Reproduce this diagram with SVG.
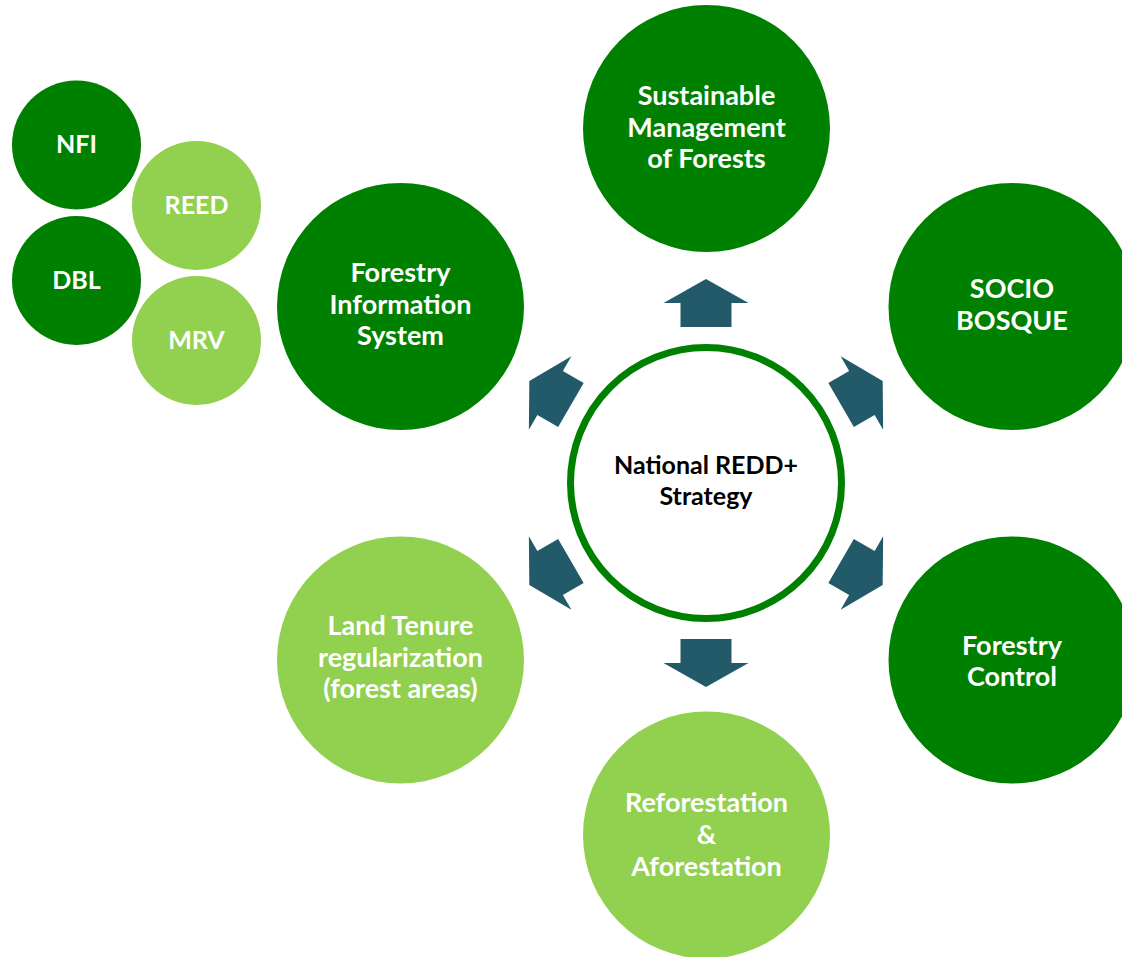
<svg xmlns="http://www.w3.org/2000/svg" width="1122" height="957" viewBox="0 0 1122 957">
  <style>
    .dark { fill: #008000; }
    .light { fill: #92d050; }
    .lbl { font-family: Lato, "Open Sans", "Liberation Sans", sans-serif; font-weight: bold; font-size: 27px; fill: #ffffff; text-anchor: middle; }
    .sm { font-size: 25px; }
    .ctr { font-family: Lato, "Open Sans", "Liberation Sans", sans-serif; font-weight: bold; font-size: 25px; fill: #000000; text-anchor: middle; }
    .arrow { fill: #235a6a; }
  </style>
  <defs>
    <polygon id="arr" points="0,-204 42.5,-180 25.5,-180 25.5,-156 -25.5,-156 -25.5,-180 -42.5,-180"/>
  </defs>
  <rect width="1122" height="957" fill="#ffffff"/>

  <g id="connectors" class="arrow">
    <use href="#arr" transform="translate(706,483) rotate(0)"/>
    <use href="#arr" transform="translate(706,483) rotate(60)"/>
    <use href="#arr" transform="translate(706,483) rotate(120)"/>
    <use href="#arr" transform="translate(706,483) rotate(180)"/>
    <use href="#arr" transform="translate(706,483) rotate(240)"/>
    <use href="#arr" transform="translate(706,483) rotate(300)"/>
  </g>

  <g id="center">
    <circle cx="706" cy="483" r="135.5" fill="#ffffff" stroke="#008000" stroke-width="7"/>
    <text class="ctr" x="706" y="474">National REDD+</text>
    <text class="ctr" x="706" y="505">Strategy</text>
  </g>

  <g id="sustainable">
    <circle class="dark" cx="706.5" cy="128.5" r="123.5"/>
    <text class="lbl" x="706.5" y="105">Sustainable</text>
    <text class="lbl" x="706.5" y="137">Management</text>
    <text class="lbl" x="706.5" y="168">of Forests</text>
  </g>

  <g id="socio-bosque">
    <circle class="dark" cx="1012" cy="306.5" r="123.5"/>
    <text class="lbl" x="1012" y="298">SOCIO</text>
    <text class="lbl" x="1012" y="330">BOSQUE</text>
  </g>

  <g id="forestry-control">
    <circle class="dark" cx="1012" cy="660" r="123.5"/>
    <text class="lbl" x="1012" y="655">Forestry</text>
    <text class="lbl" x="1012" y="686">Control</text>
  </g>

  <g id="reforestation">
    <circle class="light" cx="706.5" cy="835" r="123.5"/>
    <text class="lbl" x="706.5" y="812">Reforestation</text>
    <text class="lbl" x="706.5" y="844">&amp;</text>
    <text class="lbl" x="706.5" y="876">Aforestation</text>
  </g>

  <g id="land-tenure">
    <circle class="light" cx="400.5" cy="660" r="123.5"/>
    <text class="lbl" x="400.5" y="635">Land Tenure</text>
    <text class="lbl" x="400.5" y="666.5">regularization</text>
    <text class="lbl" x="400.5" y="698">(forest areas)</text>
  </g>

  <g id="forestry-info">
    <circle class="dark" cx="400.5" cy="306.5" r="123.5"/>
    <text class="lbl" x="400.5" y="282">Forestry</text>
    <text class="lbl" x="400.5" y="313.5">Information</text>
    <text class="lbl" x="400.5" y="345">System</text>
  </g>

  <g id="nfi">
    <circle class="dark" cx="76.5" cy="145" r="64.5"/>
    <text class="lbl sm" x="76.5" y="153">NFI</text>
  </g>
  <g id="reed">
    <circle class="light" cx="196.5" cy="205.5" r="64.5"/>
    <text class="lbl sm" x="196.5" y="213.5">REED</text>
  </g>
  <g id="dbl">
    <circle class="dark" cx="76.5" cy="280.5" r="64.5"/>
    <text class="lbl sm" x="76.5" y="289">DBL</text>
  </g>
  <g id="mrv">
    <circle class="light" cx="196.5" cy="340.5" r="64.5"/>
    <text class="lbl sm" x="196.5" y="348.5">MRV</text>
  </g>
</svg>
